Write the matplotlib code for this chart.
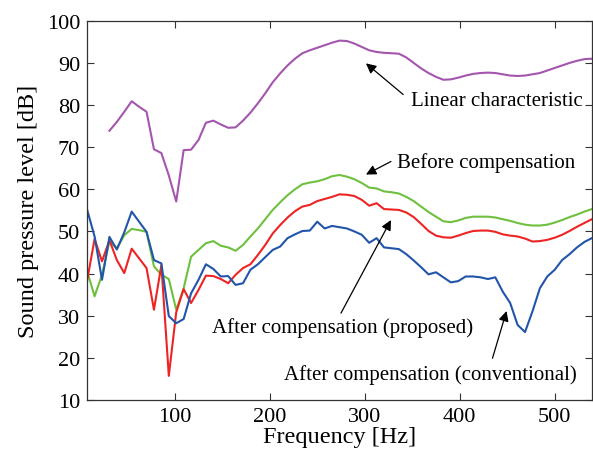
import numpy as np
import matplotlib
matplotlib.use("Agg")
import matplotlib.pyplot as plt

plt.rcParams['font.family'] = ['Liberation Serif', 'DejaVu Serif']
plt.rcParams['mathtext.fontset'] = 'stix'

df = 7.8125
freq = np.arange(1, 70) * df

before = [40.5, 34.6, 39.7, 47.6, 46.0, 49.1, 50.6, 50.3, 49.9, 41.7, 39.7, 38.7, 31.4,
          36.5, 44.0, 45.6, 47.2, 47.7, 46.6, 46.2, 45.4, 46.8, 48.8, 50.7, 52.9, 55.1,
          56.9, 58.6, 60.0, 61.2, 61.6, 61.9, 62.4, 63.1, 63.4, 63.0, 62.4, 61.5, 60.4,
          60.2, 59.5, 59.3, 59.0, 58.2, 57.2, 55.9, 54.6, 53.5, 52.4, 52.2, 52.6, 53.2,
          53.5, 53.5, 53.5, 53.3, 52.9, 52.5, 52.0, 51.6, 51.4, 51.4, 51.6, 52.1, 52.7,
          53.4, 54.0, 54.7, 55.3]

proposed = [38.4, 48.2, 42.9, 47.9, 43.2, 40.1, 45.9, 43.6, 41.3, 31.4, 42.0, 15.7, 30.8,
            36.3, 33.0, 36.1, 39.5, 39.4, 38.7, 37.7, 39.7, 41.3, 42.2, 44.4, 46.8, 49.5,
            51.5, 53.3, 54.8, 55.9, 56.3, 57.2, 57.7, 58.2, 58.8, 58.7, 58.4, 57.5, 56.1,
            56.7, 55.3, 55.2, 55.1, 54.5, 53.4, 51.8, 50.1, 49.0, 48.6, 48.5, 49.0, 49.6,
            50.1, 50.2, 50.2, 49.9, 49.3, 49.0, 48.8, 48.3, 47.6, 47.7, 48.0, 48.5, 49.2,
            50.1, 51.1, 52.0, 52.9]

conventional = [55.1, 48.8, 38.5, 48.7, 45.7, 49.8, 54.7, 52.3, 49.9, 43.2, 42.4, 29.9, 28.2,
                29.2, 35.3, 38.5, 42.2, 41.1, 39.3, 39.4, 37.3, 37.7, 40.9, 42.2, 43.9, 45.6,
                46.4, 48.4, 49.3, 50.1, 50.2, 52.3, 50.7, 51.3, 51.0, 50.7, 50.0, 49.2, 47.3,
                48.4, 46.2, 46.0, 45.8, 44.6, 43.1, 41.5, 39.8, 40.3, 39.1, 37.9, 38.2, 39.3,
                39.3, 39.1, 38.7, 39.1, 35.7, 33.0, 27.8, 26.1, 31.0, 36.5, 39.3, 40.9, 43.2,
                44.6, 46.2, 47.5, 48.4]

linear_freq = freq[3:]
linear = [73.9, 76.0, 78.4, 80.9, 79.6, 78.4, 69.5, 68.6, 63.3, 57.1, 69.3, 69.4, 71.7,
          75.8, 76.3, 75.4, 74.6, 74.7, 76.3, 78.2, 80.4, 82.8, 85.4, 87.5, 89.4, 91.0,
          92.3, 93.0, 93.6, 94.2, 94.8, 95.3, 95.2, 94.6, 93.8, 93.0, 92.6, 92.4, 92.3,
          92.2, 91.3, 90.0, 88.7, 87.6, 86.7, 86.0, 86.1, 86.5, 87.0, 87.4, 87.6, 87.7,
          87.6, 87.3, 87.0, 86.9, 87.0, 87.3, 87.6, 88.2, 88.8, 89.4, 90.0, 90.5, 90.9,
          91.0]

fig = plt.figure(figsize=(5.93, 4.64), dpi=100)
ax = fig.add_axes([0.147, 0.136, 0.851, 0.817])

lw = 1.5
ax.plot(linear_freq, linear, color='#A455AE', lw=lw)
ax.plot(freq, before, color='#6EC03E', lw=lw)
ax.plot(freq, proposed, color='#EE2424', lw=lw)
ax.plot(freq, conventional, color='#2255AA', lw=lw)

ax.set_xlim(df, 69 * df)
ax.set_ylim(10, 100)
ax.set_xticks([100, 200, 300, 400, 500])
ax.set_yticks(np.arange(10, 101, 10))
ax.tick_params(direction='in', top=True, right=True, labelsize=16, length=5,
               width=0.8, color='#333333', pad=5)
for s in ax.spines.values():
    s.set_color('#333333')
    s.set_linewidth(0.9)
ax.set_xlabel('Frequency [Hz]', fontsize=17.5, labelpad=0)
ax.set_ylabel('Sound pressure level [dB]', fontsize=17.5, labelpad=6)

ap = dict(arrowstyle='-|>', color='black', lw=0.9, mutation_scale=15, shrinkA=0, shrinkB=0)
fs = 15
ax.annotate('', xy=(301.3, 89.9), xytext=(340.5, 82.5), arrowprops=ap)
ax.text(349, 81.1, 'Linear characteristic', fontsize=fs, va='center', ha='left')
ax.annotate('', xy=(301.3, 63.5), xytext=(327.6, 66.6), arrowprops=ap)
ax.text(334.2, 66.4, 'Before compensation', fontsize=fs, va='center', ha='left')
ax.annotate('', xy=(327.6, 52.7), xytext=(275, 30.6), arrowprops=ap)
ax.text(414, 27.3, 'After compensation (proposed)', fontsize=fs, va='center', ha='right')
ax.annotate('', xy=(449.3, 31.1), xytext=(434.5, 19.9), arrowprops=ap)
ax.text(523.7, 16.2, 'After compensation (conventional)', fontsize=fs, va='center', ha='right')

fig.savefig('out.png', dpi=100)
